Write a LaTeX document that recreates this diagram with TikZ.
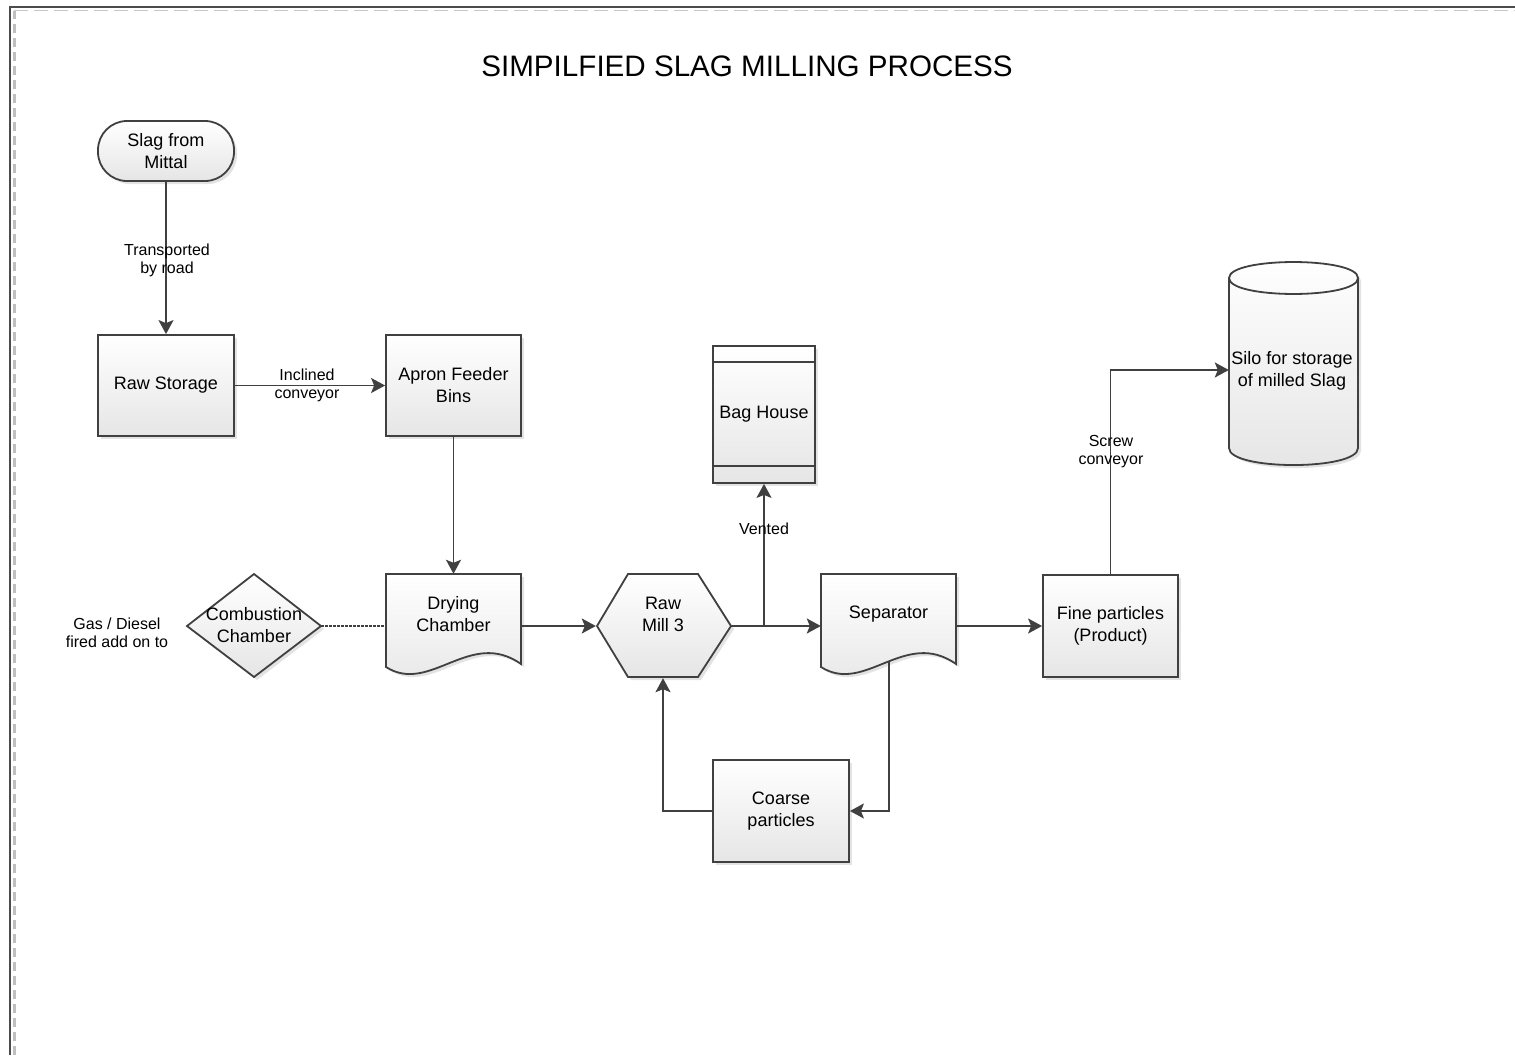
\documentclass[tikz,border=0pt]{standalone}
\usepackage{fontspec}
\setmainfont{Liberation Sans}
\usetikzlibrary{arrows.meta,shadows,calc}
\newcommand\nodefont{\fontsize{18}{22}\selectfont}
\newcommand\lblfont{\fontsize{16}{18}\selectfont}
\begin{document}
\begin{tikzpicture}[x=1pt,y=-1pt,
  ln/.style={draw=black!75, line width=1.8pt},
  boxfill/.style={top color=white, bottom color=black!10,
    drop shadow={opacity=0.22, shadow xshift=3pt, shadow yshift=-3pt}},
  box/.style={ln, boxfill, rectangle, inner sep=2pt, align=center, font=\nodefont},
  ghost/.style={draw=none, rectangle, inner sep=0pt},
  txt/.style={align=center, font=\nodefont, inner sep=0pt},
  lbl/.style={align=center, font=\lblfont, inner sep=0pt},
  flow/.style={draw=black!75, line width=1.8pt, -{Stealth[length=14pt,width=15pt,inset=3pt]}},
]
\useasboundingbox (0,0) rectangle (1515,1055);
\fill[white] (0,0) rectangle (1515,1055);
% page border
\draw[black!25, line width=2.5pt, dash pattern=on 9pt off 5pt] (14.5,1055) -- (14.5,11);
\draw[black!22, line width=1.5pt, dash pattern=on 14pt off 6pt] (14,10.5) -- (1515,10.5);
\draw[black!70, line width=1.5pt] (10,1055) -- (10,7) -- (1515,7);

% title
\node[font=\fontsize{29.6}{34}\selectfont] (title) at (747,66) {SIMPILFIED SLAG MILLING PROCESS};

% nodes
\node[box, rounded corners=29pt, minimum width=136pt, minimum height=60pt] (slag) at (166,151) {Slag from\\Mittal};
\node[box, minimum width=136pt, minimum height=101pt] (raw) at (166,385.5) {Raw Storage};
\node[box, minimum width=135pt, minimum height=101pt] (apron) at (453.5,385.5) {Apron Feeder\\Bins};

% drying chamber (document shape)
\path[ln, boxfill] (386,574) -- (521,574) -- (521,664) .. controls (470,628) and (430,695) .. (386,667) -- cycle;
\node[ghost, minimum width=135pt, minimum height=104pt] (dry) at (453.5,626) {};
\node[txt] (drytxt) at (453.5,614) {Drying\\Chamber};

% combustion chamber (diamond)
\path[ln, boxfill] (187,626) -- (254,574) -- (321,626) -- (254,677) -- cycle;
\node[ghost, minimum width=134pt, minimum height=104pt] (comb) at (254,626) {};
\node[txt] (combtxt) at (254,625) {Combustion\\Chamber};
\node[lbl] (gas) at (117,633) {Gas / Diesel\\fired add on to};

% raw mill (hexagon)
\path[ln, boxfill] (597,626) -- (628,574) -- (698,574) -- (731,626) -- (698,677) -- (628,677) -- cycle;
\node[ghost, minimum width=134pt, minimum height=104pt] (mill) at (663,626) {};
\node[txt] (milltxt) at (663,614) {Raw\\Mill 3};

% separator (document shape)
\path[ln, boxfill] (821,574) -- (956,574) -- (956,664) .. controls (905,628) and (865,695) .. (821,667) -- cycle;
\node[ghost, minimum width=135pt, minimum height=104pt] (sep) at (888.5,626) {};
\node[txt] (septxt) at (888.5,614) {Separator};
\coordinate (sepb) at (889,662);

% bag house
\node[box, minimum width=102pt, minimum height=137pt] (bag) at (764,414.5) {Bag House};
\draw[ln] ($(bag.north west)+(0,17)$) -- ($(bag.north east)+(0,17)$);
\draw[ln] ($(bag.south west)+(0,-18)$) -- ($(bag.south east)+(0,-18)$);

% coarse / fine
\node[box, minimum width=136pt, minimum height=102pt] (coarse) at (781,811) {Coarse\\particles};
\node[box, minimum width=135pt, minimum height=102pt] (fine) at (1110.5,626) {Fine particles\\(Product)};

% silo (cylinder)
\path[ln, boxfill] (1229,278) -- (1229,448) .. controls (1229,470.7) and (1358,470.7) .. (1358,448)
  -- (1358,278) .. controls (1358,256.7) and (1229,256.7) .. (1229,278) -- cycle;
\draw[ln] (1229,278) .. controls (1229,299.3) and (1358,299.3) .. (1358,278);
\node[ghost, minimum width=129pt, minimum height=150pt] (silo) at (1293.5,370) {};
\node[txt] (silotxt) at (1292,371) {Silo for storage\\of milled Slag};

% connectors
\draw[flow] (slag.south) -- (raw.north);
\node[lbl] (l1) at (167,260) {Transported\\by road};
\draw[flow] (raw.east) -- (apron.west);
\node[lbl] (l2) at (307,385) {Inclined\\conveyor};
\draw[flow] (apron.south) -- (dry.north);
\draw[draw=black!75, line width=1.6pt, dash pattern=on 2.5pt off 1.5pt] (comb.east) -- (dry.west);
\draw[flow] (dry.east) -- (mill.west);
\draw[flow] (mill.east) -- (sep.west);
\coordinate (vent) at (764,626);
\draw[flow] (vent) -- (bag.south);
\node[lbl] (l3) at (764,529) {Vented};
\draw[flow] (sepb) |- (coarse.east);
\draw[flow] (coarse.west) -| (mill.south);
\draw[flow] (sep.east) -- (fine.west);
\draw[flow] (fine.north) |- (silo.west);
\node[lbl] (l4) at (1111,452) {Screw\\conveyor};
\end{tikzpicture}
\end{document}
